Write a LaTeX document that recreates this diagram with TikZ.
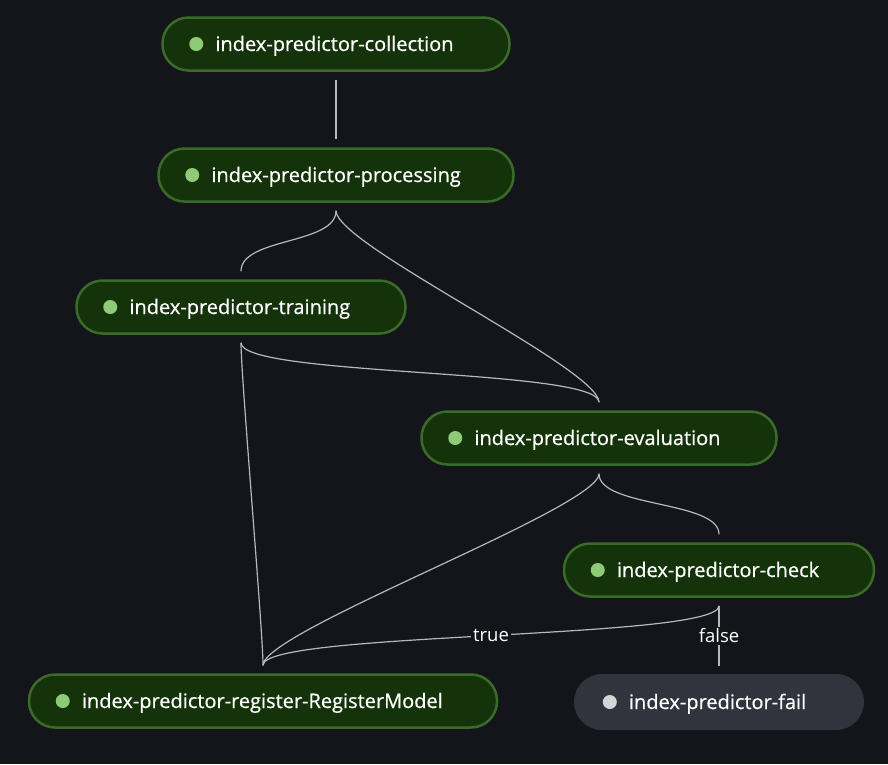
\documentclass[tikz,border=0pt]{standalone}
\usepackage{fontspec}
\setmainfont{Open Sans}
\newfontfamily\stepfont[FakeBold=0.6]{Open Sans}
\definecolor{canvas}{HTML}{13151A}
\definecolor{stepfill}{HTML}{15330B}
\definecolor{stepline}{HTML}{3A6B28}
\definecolor{stepgreen}{HTML}{8DCB78}
\definecolor{failfill}{HTML}{32343D}
\definecolor{faildot}{HTML}{D5D5D8}
\definecolor{edgegray}{HTML}{B8B8BC}
\tikzset{
  stepbox/.style={draw=stepline, fill=stepfill, line width=2.5pt, rounded corners=26pt,
    minimum height=53pt, inner sep=0pt},
  failbox/.style={fill=failfill, rounded corners=28pt, minimum height=56pt, inner sep=0pt},
  stepdot/.style={circle, fill=stepgreen, minimum size=14pt, inner sep=0pt},
  steptext/.style={anchor=base west, inner sep=0pt, text=white, font=\stepfont\fontsize{20}{23}\selectfont},
  edge/.style={draw=edgegray, line width=1.2pt},
  edgelabel/.style={fill=canvas, text=white, inner sep=2pt, font=\fontsize{18.5}{21}\selectfont}
}
\begin{document}
\begin{tikzpicture}[x=1pt, y=-1pt]
  \fill[canvas] (0,0) rectangle (888,764);
  \useasboundingbox (0,0) rectangle (888,764);
  % steps: name / centre x / centre y / width / label
  \foreach \nm/\cx/\cy/\w/\txt in {collection/336/44/347/collection,
      processing/336/175/355/processing, training/241/307/329/training,
      evaluation/599/438/355/evaluation, check/719/570/310/check,
      register/263/701/468/register-RegisterModel}
  {
    \node[stepbox, minimum width=\w pt] (\nm) at (\cx,\cy) {};
    \node[stepdot] (\nm-dot) at ([xshift=35pt]\nm.west) {};
    \node[steptext] (\nm-text) at ([xshift=54pt, yshift=-7pt]\nm.west) {index-predictor-\txt};
  }
  \node[failbox, minimum width=290pt] (fail) at (719,702) {};
  \node[stepdot, fill=faildot] (fail-dot) at ([xshift=36pt]fail.west) {};
  \node[steptext] (fail-text) at ([xshift=55pt, yshift=-7pt]fail.west) {index-predictor-fail};
  % edges
  \foreach \a/\b in {collection/processing, processing/training, processing/evaluation,
      training/evaluation, training/register, evaluation/register, evaluation/check}
  {
    \draw[edge] ([yshift=-8pt]\a.south) .. controls +(0,34) and +(0,-34) .. ([yshift=8pt]\b.north);
  }
  \draw[edge] ([yshift=-8pt]check.south) .. controls +(0,34) and +(0,-34)
    .. node[edgelabel] (true-label) {true} ([yshift=8pt]register.north);
  \draw[edge] ([yshift=-8pt]check.south) .. controls +(0,34) and +(0,-34)
    .. node[edgelabel] (false-label) {false} ([yshift=8pt]fail.north);
\end{tikzpicture}
\end{document}
